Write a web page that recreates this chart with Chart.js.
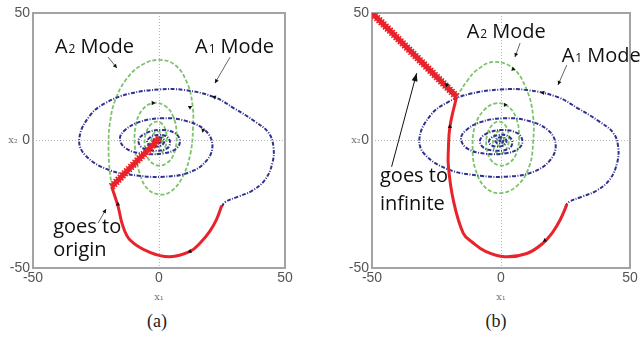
<!DOCTYPE html>
<html>
<head>
<meta charset="utf-8">
<script src="https://cdn.jsdelivr.net/npm/chart.js@4.4.0/dist/chart.umd.min.js"></script>
<style>
  body { margin: 0; background: #fff; width: 641px; height: 340px; position: relative; overflow: hidden; }
  canvas { position: absolute; top: 0; }
  #pa { left: 0; }
  #pb { left: 320px; }
  .cap { position: absolute; top: 311px; width: 60px; text-align: center; font: 18px "Liberation Serif", serif; color: #222; }
</style>
</head>
<body>
<canvas id="pa" width="320" height="310"></canvas>
<canvas id="pb" width="321" height="310"></canvas>
<div class="cap" style="left:127px">(a)</div>
<div class="cap" style="left:466px">(b)</div>
<script>
const tickValues = [-50, 0, 50];

// A1 mode trajectory, counter-clockwise from the switching point at lower right
const blueA1 = [
  [24.9, -26], [26.2, -24.2], [31.4, -22], [36.8, -19.8], [42, -15.5], [45, -8.8], [45.4, -2.4],
  [43.5, 3], [38, 7.5], [30, 12.5], [22, 17], [10, 19.8], [0, 20], [-12, 18.3], [-21, 14.8], [-27.4, 9.8],
  [-31.6, 1], [-29.5, -5.5], [-20, -11.5], [-8, -13.8], [2, -14.2], [12, -12.5], [18.8, -8],
  [21.2, -1.8], [18.3, 4], [10.3, 7.8], [1, 8.7], [-8, 7.2], [-13.8, 3.8], [-15.5, 0.5],
  [-13, -3.2], [-6, -5.2], [2, -5], [6.8, -3.2], [8.3, -0.3], [6.5, 2.8], [1, 4.1], [-4.5, 3.2],
  [-8, 0.5], [-7, -2.6], [-2, -4], [3, -3.2], [4.4, -0.8], [3, 1.6], [-0.5, 2.2], [-3.6, 1.2],
  [-4.7, -0.8], [-2.5, -2.3], [0.5, -2.1], [2.1, -0.6], [1.4, 0.9], [-0.8, 1.2], [-2.2, 0.1],
  [-1.6, -1], [0, -1.1], [0.9, -0.3], [0.3, 0.5], [-0.6, 0.3], [-0.4, -0.3], [0.1, -0.2]
];

// A2 mode, clockwise; outer turn differs between the two cases
const greenOuterA = [
  [-18.8, -18.1], [-19.8, -9], [-20, 0], [-19.4, 7.4], [-17.5, 15.5], [-13, 24], [-6.5, 29.8],
  [0.4, 31.6], [6.5, 29.5], [11, 23], [13.3, 14], [13.5, 5], [12.5, -5], [9.5, -14], [5, -19.8],
  [0.5, -21.2], [-4.5, -19], [-7.8, -12.5], [-9.5, -3], [-9.3, 5.5], [-6.8, 11.8], [-2.4, 14.7]
];
const greenOuterB = [
  [-17.2, 17.2], [-13, 23.5], [-9.4, 27.6], [-3, 30.8], [4.7, 28.3], [10, 19.8], [12.4, 10],
  [12.5, 0], [11, -10], [6.5, -17.5], [0, -20.6], [-6, -18.5], [-10, -11], [-11, -2], [-10, 6],
  [-6.5, 12], [-2, 14.6]
];
const greenInner = [
  [2.5, 13.5], [5.8, 9], [7, 2], [6, -5], [3.2, -8.8], [-0.5, -9.8], [-4, -7.5], [-5.6, -2.5],
  [-5.3, 2.5], [-3.2, 6.3], [-0.6, 7.4], [1.8, 5.8], [3, 2], [2.6, -2.2], [0.8, -4.8], [-1.5, -5],
  [-2.9, -2.5], [-2.9, 1], [-1.6, 3.3], [0.2, 3.4], [1.5, 1.5], [1.4, -1], [0.3, -2.4], [-1.1, -2],
  [-1.5, -0.3], [-0.9, 1.2], [0.2, 1.4], [0.8, 0.3], [0.4, -0.8], [-0.4, -0.8], [-0.6, 0.1], [0, 0.4]
];

// switching arc below the origin
const redArcA = [
  [24.9, -25.5], [22.8, -31], [20.2, -35.5], [16.5, -40], [12.3, -43.5], [4.4, -45.6],
  [-3.6, -43.9], [-11.5, -39], [-14.5, -33], [-16.2, -26], [-18.8, -18.1]
];
const redArcB = [
  [25.6, -25], [23, -31], [20, -36], [16, -40.5], [10, -44.3], [1.5, -45.6], [-6, -43.5],
  [-11, -40], [-14.6, -36.4], [-18.5, -23.3], [-20.4, -10], [-20.4, -3.7], [-19.8, 5.4], [-17.2, 17.2]
];

// chattering segment
const slideA = [[-18.8, -18.1], [0.3, 1]];
const slideB = [[-17.2, 17.2], [-50, 50]];

// direction marks: x, y, rotation (deg)
const marksA = [[22, 17, 290], [17.5, 4, 320], [12.3, 13, 180], [-2.4, 14.7, 90], [-16.3, -25, 0], [12.3, -43.5, 250]];
const marksB = [[16.3, 18.8, 280], [4.7, 28, 110], [1.6, 14, 90], [-19.8, 5.4, 0], [17, -39.2, 230], [-21, 21.8, 315]];

const pts = arr => arr.map(p => ({ x: p[0], y: p[1] }));

function lineSet(data, color, width, dash, tension, order) {
  return {
    data: pts(data), showLine: true, borderColor: color, borderWidth: width,
    borderDash: dash, tension, pointRadius: 0, order
  };
}

function buildSets(green, red, slide, marks) {
  return [
    {
      data: pts(marks), showLine: false, pointStyle: 'triangle', pointRadius: 2.5,
      pointRotation: marks.map(m => m[2]), backgroundColor: '#111', borderColor: '#111',
      borderWidth: 0, order: 0
    },
    lineSet(slide, '#e8232b', 8, [1.5, 1.5], 0, 1),
    lineSet(slide, '#e8232b', 5, [], 0, 2),
    lineSet(red, '#e8232b', 3, [], 0.4, 3),
    lineSet(blueA1, '#2f3190', 2, [4, 1.5, 1, 1.5], 0.4, 4),
    lineSet(green, '#7cc46c', 1.8, [4, 2], 0.4, 5)
  ];
}

const frame = {
  id: 'frame',
  beforeDatasetsDraw(chart) {
    const { ctx, chartArea: a } = chart;
    ctx.save();
    ctx.strokeStyle = '#a3a3a3';
    ctx.lineWidth = 2;
    ctx.strokeRect(a.left, a.top, a.right - a.left, a.bottom - a.top);
    ctx.restore();
  }
};

function pointer(ctx, x0, y0, x1, y1, dark) {
  const ang = Math.atan2(y1 - y0, x1 - x0);
  const len = dark ? 8 : 4;
  const half = dark ? 3 : 2;
  ctx.strokeStyle = dark ? '#111' : '#666';
  ctx.lineWidth = 1;
  ctx.beginPath();
  ctx.moveTo(x0, y0);
  ctx.lineTo(x1, y1);
  ctx.stroke();
  ctx.fillStyle = '#111';
  ctx.beginPath();
  ctx.moveTo(x1, y1);
  ctx.lineTo(x1 - len * Math.cos(ang) + half * Math.sin(ang), y1 - len * Math.sin(ang) - half * Math.cos(ang));
  ctx.lineTo(x1 - len * Math.cos(ang) - half * Math.sin(ang), y1 - len * Math.sin(ang) + half * Math.cos(ang));
  ctx.closePath();
  ctx.fill();
}

function notesPlugin(notes) {
  return {
    id: 'notes',
    afterDraw(chart) {
      const { ctx, chartArea, scales: { x, y } } = chart;
      const px = v => x.getPixelForValue(v);
      const py = v => y.getPixelForValue(v);
      ctx.save();
      ctx.fillStyle = '#111';
      ctx.textBaseline = 'alphabetic';
      ctx.textAlign = 'left';
      notes.modes.forEach(m => {
        let cx = px(m.x);
        const cy = py(m.y);
        ctx.font = '20px "Open Sans"';
        ctx.fillText('A', cx, cy);
        cx += ctx.measureText('A').width + 1;
        ctx.font = '12px "Open Sans"';
        ctx.fillText(m.sub, cx, cy);
        cx += ctx.measureText(m.sub).width + 5;
        ctx.font = '20px "Open Sans"';
        ctx.fillText('Mode', cx, cy);
      });
      ctx.font = '20px "Open Sans"';
      notes.phrases.forEach(p => ctx.fillText(p.text, px(p.x), py(p.y)));
      notes.pointers.forEach(p => pointer(ctx, px(p.from[0]), py(p.from[1]), px(p.to[0]), py(p.to[1]), p.dark));
      // vertical axis name sits horizontally beside the 0 tick
      ctx.fillStyle = '#777';
      ctx.font = '10px "DejaVu Serif"';
      ctx.textAlign = 'center';
      ctx.textBaseline = 'middle';
      ctx.fillText('x₂', chartArea.left + notes.x2Offset, py(0));
      ctx.restore();
    }
  };
}

function makePanel(id, datasets, yWidth, padRight, notes) {
  const tickFont = { family: '"Liberation Sans"', size: 14 };
  const zeroGrid = { color: c => (c.tick && c.tick.value === 0 ? '#b5b5b5' : 'rgba(0,0,0,0)'), lineWidth: 1, drawTicks: false };
  new Chart(document.getElementById(id), {
    type: 'scatter',
    data: { datasets },
    options: {
      responsive: false,
      animation: false,
      layout: { padding: { top: 13, right: padRight, left: 0, bottom: 0 } },
      plugins: { legend: { display: false }, tooltip: { enabled: false } },
      scales: {
        x: {
          min: -50, max: 50,
          afterBuildTicks: s => { s.ticks = tickValues.map(v => ({ value: v })); },
          afterFit: s => { s.height = 42; },
          ticks: { font: tickFont, color: '#555', padding: 2 },
          grid: zeroGrid,
          border: { display: false, dash: [1, 2] },
          title: { display: true, text: 'x₁', color: '#777', font: { family: '"DejaVu Serif"', size: 10 }, padding: { top: 0, bottom: 7 } }
        },
        y: {
          min: -50, max: 50,
          afterBuildTicks: s => { s.ticks = tickValues.map(v => ({ value: v })); },
          afterFit: s => { s.width = yWidth; },
          ticks: { font: tickFont, color: '#555', padding: 3 },
          grid: zeroGrid,
          border: { display: false, dash: [1, 2] }
        }
      }
    },
    plugins: [frame, notesPlugin(notes)]
  });
}

makePanel('pa', buildSets(greenOuterA.concat(greenInner), redArcA, slideA, marksA), 33, 35, {
  modes: [{ sub: '2', x: -41.3, y: 34.3 }, { sub: '1', x: 14.3, y: 34.3 }],
  phrases: [{ text: 'goes to', x: -42, y: -36.3 }, { text: 'origin', x: -42, y: -45.4 }],
  pointers: [
    { from: [-20.2, 32.7], to: [-16.7, 28.4] },
    { from: [28.2, 32.7], to: [22.2, 22.5] },
    { from: [-24.2, -32.4], to: [-21, -26.9] }
  ],
  x2Offset: -20
});

makePanel('pb', buildSets(greenOuterB.concat(greenInner), redArcB, slideB, marksB), 52, 11, {
  modes: [{ sub: '2', x: -13.3, y: 40.2 }, { sub: '1', x: 23.5, y: 30.8 }],
  phrases: [{ text: 'goes to', x: -46.9, y: -16.3 }, { text: 'infinite', x: -46.9, y: -27.3 }],
  pointers: [
    { from: [7.4, 38.2], to: [5.4, 32.7] },
    { from: [25.5, 29.6], to: [22.1, 21.8] },
    { from: [-42.4, -10.3], to: [-32.7, 26.4], dark: true }
  ],
  x2Offset: -16
});
</script>
</body>
</html>
